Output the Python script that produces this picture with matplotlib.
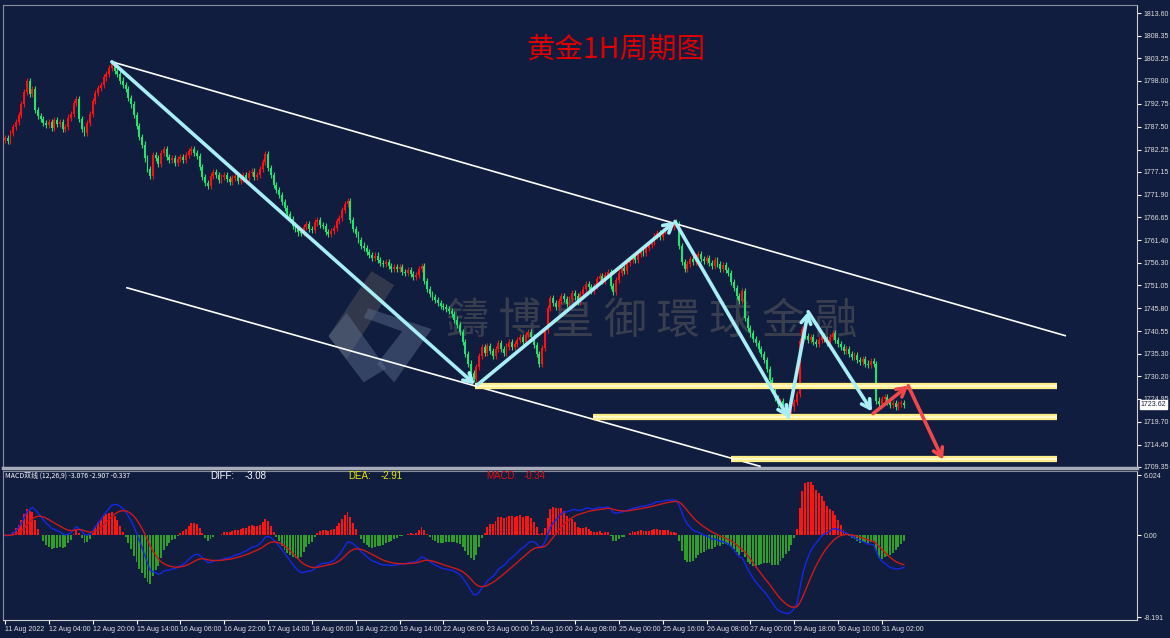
import numpy as np
import pandas as pd
import matplotlib.pyplot as plt
from matplotlib.patches import Polygon

plt.rcParams['font.family'] = ['Noto Sans CJK SC', 'DejaVu Sans']

# hourly closes, 16 bars per row (one x label per row)
closes = [
    1785.0, 1784.2, 1786.1, 1787.5, 1788.6, 1790.2, 1792.8, 1795.4, 1797.9, 1795.0, 1796.2, 1791.3, 1790.0, 1789.2, 1788.4, 1787.9,
    1788.6, 1787.2, 1789.0, 1788.1, 1788.5, 1786.9, 1787.4, 1789.6, 1790.5, 1793.0, 1793.8, 1789.2, 1787.0, 1786.1, 1788.3, 1790.4,
    1793.5, 1795.2, 1796.4, 1797.1, 1798.8, 1799.6, 1800.9, 1801.8, 1800.2, 1799.5, 1798.1, 1797.0, 1796.2, 1794.0, 1792.6, 1790.1,
    1787.6, 1785.1, 1783.4, 1780.2, 1777.8, 1776.1, 1781.0, 1780.3, 1778.9, 1781.5, 1782.4, 1780.6, 1779.8, 1780.4, 1779.2, 1780.1,
    1780.5, 1779.9, 1781.0, 1781.8, 1782.3, 1781.4, 1780.8, 1778.2, 1775.9, 1774.6, 1773.8, 1776.2, 1777.1, 1776.4, 1775.2, 1775.9,
    1776.3, 1775.4, 1774.9, 1775.8, 1776.2, 1775.1, 1775.6, 1776.4, 1775.7, 1776.8, 1777.2, 1776.0, 1776.5, 1777.8, 1779.4, 1781.2,
    1778.0, 1776.4, 1774.1, 1773.0, 1771.8, 1770.2, 1768.9, 1767.5, 1766.2, 1764.8, 1763.9, 1763.2, 1763.0, 1764.4, 1765.2, 1764.0,
    1763.8, 1765.5, 1766.1, 1765.0, 1764.6, 1763.4, 1762.9, 1763.6, 1764.2, 1765.8, 1766.5, 1768.4, 1769.8, 1770.4, 1766.0, 1764.1,
    1762.8, 1761.5, 1760.2, 1759.6, 1758.8, 1758.1, 1757.4, 1757.9, 1756.8, 1756.2, 1755.9, 1756.4, 1755.6, 1754.9, 1755.3, 1754.8,
    1755.2, 1754.1, 1753.8, 1754.5, 1753.6, 1753.0, 1753.4, 1754.9, 1755.6, 1752.0, 1750.2, 1749.1, 1748.3, 1747.6, 1747.0, 1746.4,
    1746.0, 1745.7, 1745.1, 1744.4, 1743.2, 1741.9, 1740.3, 1738.0, 1735.2, 1733.1, 1731.0, 1729.5, 1732.4, 1734.8, 1736.9, 1735.5,
    1737.2, 1736.0, 1734.8, 1736.5, 1737.8, 1736.4, 1735.6, 1737.0, 1738.1, 1736.9, 1737.5, 1738.6, 1739.2, 1738.0, 1739.6, 1740.4,
    1739.1, 1737.4, 1735.2, 1733.0, 1736.6, 1740.8, 1745.9, 1748.2, 1747.0, 1746.1, 1747.5, 1748.6, 1747.9, 1746.8, 1748.0, 1749.2,
    1748.5, 1747.3, 1749.0, 1750.2, 1751.4, 1750.6, 1749.8, 1751.0, 1752.4, 1753.1, 1752.0, 1753.5, 1754.2, 1751.0, 1749.6, 1752.2,
    1753.8, 1755.0, 1754.3, 1756.1, 1756.8, 1757.5, 1756.9, 1758.2, 1759.0, 1758.4, 1759.6, 1760.3, 1761.1, 1762.4, 1763.0, 1762.2,
    1763.5, 1764.2, 1765.0, 1764.4, 1765.6, 1765.2, 1760.1, 1756.4, 1754.8, 1756.0, 1757.2, 1756.5, 1757.6, 1758.3, 1757.1, 1756.6,
    1757.4, 1756.2, 1755.5, 1756.8, 1756.0, 1754.9, 1755.7, 1754.6, 1753.8, 1751.9, 1750.4, 1748.6, 1747.5, 1749.8, 1743.6, 1741.2,
    1740.0, 1738.7, 1737.9, 1736.5, 1735.2, 1734.0, 1731.8, 1729.4, 1727.0, 1725.2, 1723.8, 1724.5, 1723.1, 1722.4, 1721.6, 1723.0,
    1724.2, 1726.0, 1738.2, 1741.0, 1739.5, 1738.4, 1739.1, 1738.0, 1737.6, 1738.5, 1739.4, 1738.7, 1737.9, 1739.2, 1740.0, 1738.6,
    1737.5, 1736.8, 1735.9, 1736.4, 1735.2, 1734.6, 1735.1, 1734.0, 1733.5, 1734.2, 1733.1, 1732.8, 1733.6, 1733.0, 1724.6, 1723.8,
    1724.9, 1725.5, 1724.2, 1723.5, 1724.1, 1723.2, 1723.9, 1724.0, 1723.62,
]
first_open = 1784.5
wick = 0.7

x_labels = ['11 Aug 2022', '12 Aug 04:00', '12 Aug 20:00', '15 Aug 14:00', '16 Aug 06:00',
            '16 Aug 22:00', '17 Aug 14:00', '18 Aug 06:00', '18 Aug 22:00', '19 Aug 14:00',
            '22 Aug 08:00', '23 Aug 00:00', '23 Aug 16:00', '24 Aug 08:00', '25 Aug 00:00',
            '25 Aug 16:00', '26 Aug 08:00', '27 Aug 00:00', '29 Aug 18:00', '30 Aug 10:00',
            '31 Aug 02:00']
price_ticks = [1813.60, 1808.35, 1803.25, 1798.00, 1792.75, 1787.50, 1782.25, 1777.15,
               1771.90, 1766.65, 1761.40, 1756.30, 1751.05, 1745.80, 1740.55, 1735.30,
               1730.20, 1724.95, 1719.70, 1714.45, 1709.35]
macd_ticks = [6.024, 0.0, -8.191]

# drawn objects (bar index, price)
channel_upper = [(39.0, 1802.4), (386.9, 1739.5)]
channel_lower = [(44.5, 1750.5), (275.5, 1709.5)]
wave_arrows = [((39.0, 1802.4), (171.5, 1728.3)),
               ((172.6, 1728.3), (244.5, 1765.7)),
               ((244.5, 1765.7), (285.8, 1720.7)),
               ((285.8, 1720.7), (293.1, 1745.0)),
               ((293.1, 1745.0), (316.4, 1722.1))]
forecast_arrows = [((316.8, 1721.6), (329.6, 1728.0)),
                   ((329.6, 1728.0), (342.3, 1711.0))]
levels = [(1728.0, 171.5), (1720.7, 214.6), (1711.1, 265.0)]
level_end = 384.0

bg = '#111d3f'
up_col = '#ff1010'
down_col = '#22e36b'
small = ['Liberation Sans', 'DejaVu Sans']

c = np.array(closes)
o = np.concatenate([[first_open], c[:-1]])
hi = np.maximum(o, c) + wick
lo = np.minimum(o, c) - wick
idx = np.arange(len(c))
up = c >= o

fig = plt.figure(figsize=(11.7, 6.38), dpi=100, facecolor=bg)
ax = fig.add_axes([3/1170, 1-468/638, 1134/1170, 463/638], facecolor=bg)
axm = fig.add_axes([3/1170, 1-620/638, 1134/1170, 149/638], facecolor=bg)

# candles
cols = np.where(up, up_col, down_col)
ax.vlines(idx, lo, hi, colors=cols, lw=0.8, zorder=3)
ax.bar(idx, np.maximum(np.abs(c-o), 0.15), bottom=np.minimum(o, c), width=0.7, color=cols, lw=0, zorder=3)

# watermark logo + text
logo1 = Polygon([[0.325, 0.425], [0.287, 0.285], [0.303, 0.235], [0.345, 0.395]], closed=True,
                transform=ax.transAxes, fc='#5a5a5a', alpha=0.45, ec='none', zorder=1)
logo2 = Polygon([[0.287, 0.285], [0.318, 0.185], [0.338, 0.215], [0.303, 0.335]], closed=True,
                transform=ax.transAxes, fc='#607090', alpha=0.45, ec='none', zorder=1)
logo3 = Polygon([[0.322, 0.345], [0.378, 0.300], [0.345, 0.185], [0.330, 0.225], [0.352, 0.295], [0.318, 0.325]],
                closed=True, transform=ax.transAxes, fc='#607090', alpha=0.45, ec='none', zorder=1)
for p in (logo1, logo2, logo3):
    ax.add_patch(p)
ax.text(0.572, 0.315, '鑄 博 皇 御 環 球 金 融', transform=ax.transAxes, ha='center', va='center',
        fontsize=31, color='#5a5a5a', alpha=0.55, family=['Noto Sans CJK TC', 'DejaVu Sans'], zorder=1)

# channel lines
for line in (channel_upper, channel_lower):
    ax.plot([line[0][0], line[1][0]], [line[0][1], line[1][1]], color='white', lw=1.2, zorder=4)

# support levels
for lv, start in levels:
    ax.plot([start, level_end], [lv, lv], color='#ffee88', lw=4.5, zorder=4, solid_capstyle='butt')
    ax.plot([start, level_end], [lv, lv], color='#fffbd8', lw=1.2, zorder=4, solid_capstyle='butt')

# wave arrows
for s, e in wave_arrows:
    ax.annotate('', xy=e, xytext=s, zorder=5,
                arrowprops=dict(arrowstyle='->,head_length=0.6,head_width=0.35', color='#a8eef6', lw=2.6,
                                shrinkA=0, shrinkB=0))
for s, e in forecast_arrows:
    ax.annotate('', xy=e, xytext=s, zorder=5,
                arrowprops=dict(arrowstyle='->,head_length=0.6,head_width=0.35', color='#f04848', lw=2.6,
                                shrinkA=0, shrinkB=0))

ax.set_xlim(-0.73, 413.1)
ax.set_ylim(1709.1, 1815.45)
ax.yaxis.tick_right()
ax.set_yticks(price_ticks)
ax.set_yticklabels(['%.2f' % v for v in price_ticks], family=small)
ax.tick_params(axis='y', colors='white', labelcolor='#e0e0e0', labelsize=5.0, length=3, pad=1.5)
ax.set_xticks([])
for sp in ('left', 'top'):
    ax.spines[sp].set_color('#8a8f9e')
ax.spines['right'].set_color('#d0d0d0')
ax.spines['bottom'].set_color('#a8acb8')
ax.spines['bottom'].set_linewidth(2.5)

# current price tag
ax.text(1.003, c[-1], '%.2f' % c[-1], transform=ax.get_yaxis_transform(), ha='left', va='center',
        fontsize=5.0, family=small, color='#111d3f', bbox=dict(fc='white', ec='white', pad=0.6),
        zorder=6, clip_on=False)

fig.text(616/1170, 1-50/638, '黄金1H周期图', ha='center', va='center',
         fontsize=20.5, color='#e00000')

# MACD
s = pd.Series(closes)
diff = s.ewm(span=12, adjust=False).mean() - s.ewm(span=26, adjust=False).mean()
dea = diff.ewm(span=9, adjust=False).mean()
hist = 2 * (diff - dea)
axm.bar(idx, hist, width=0.7, color=np.where(hist >= 0, '#ff1414', '#2f9e2a'), lw=0)
axm.plot(idx, diff, color='#1428e6', lw=1.0)
axm.plot(idx, dea, color='#d01818', lw=1.0)
axm.set_xlim(-0.73, 413.1)
axm.set_ylim(-8.49, 6.43)
axm.yaxis.tick_right()
axm.set_yticks(macd_ticks)
axm.set_yticklabels(['6.024', '0.00', '-8.191'], family=small)
axm.tick_params(axis='y', colors='white', labelcolor='#e0e0e0', labelsize=5.0, length=3, pad=1.5)
axm.set_xticks(np.arange(len(x_labels)) * 16)
axm.set_xticklabels(x_labels, ha='left', family=small)
axm.tick_params(axis='x', colors='white', labelcolor='#e0e0e0', labelsize=5.0, length=3, pad=1)
for sp in ('left', 'top'):
    axm.spines[sp].set_color('#8a8f9e')
for sp in ('right', 'bottom'):
    axm.spines[sp].set_color('#d0d0d0')

hy = 1 - 476/638
fig.text(5/1170, hy, 'MACD双线 (12,26,9) -3.076 -2.907 -0.337', fontsize=5.0, color='white', va='center')
fig.text(210/1170, hy, 'DIFF:', fontsize=7, family=small, color='white', va='center')
fig.text(245/1170, hy, '-3.08', fontsize=7, family=small, color='white', va='center')
fig.text(348/1170, hy, 'DEA:', fontsize=7, family=small, color='#e8e800', va='center')
fig.text(381/1170, hy, '-2.91', fontsize=7, family=small, color='#e8e800', va='center')
fig.text(486/1170, hy, 'MACD:', fontsize=7, family=small, color='#e01010', va='center')
fig.text(524/1170, hy, '-0.34', fontsize=7, family=small, color='#e01010', va='center')

fig.savefig('out.png', dpi=100, facecolor=bg)
